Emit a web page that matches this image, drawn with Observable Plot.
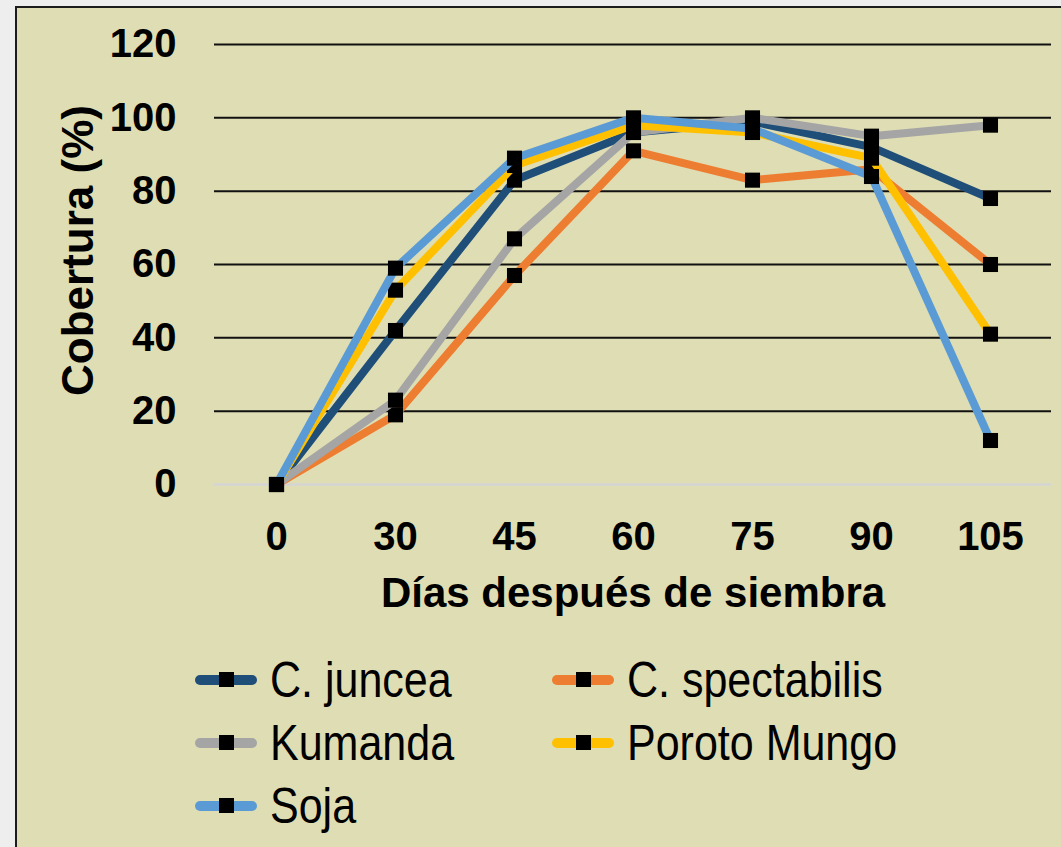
<!DOCTYPE html>
<html><head><meta charset="utf-8">
<script src="https://cdn.jsdelivr.net/npm/d3@7"></script>
<script src="https://cdn.jsdelivr.net/npm/@observablehq/plot@0.6"></script>
<style>
body{margin:0;background:#eeeeee;width:1061px;height:847px;overflow:hidden;position:relative;font-family:"Liberation Sans",Arial,sans-serif;}
#panel{position:absolute;left:15px;top:6px;width:1100px;height:900px;border:2px solid #1c1c1c;background:#dfddb3;}
#chart{position:absolute;left:0;top:0;}
.item{position:absolute;height:50px;display:flex;align-items:center;white-space:nowrap;}
.sw{position:relative;width:62px;height:10px;border-radius:5px;}
.sw i{position:absolute;left:24px;top:-3px;width:15px;height:15px;background:#000;}
.lab{margin-left:13px;font-size:50px;color:#000;transform:scaleX(0.86);transform-origin:left center;}
</style></head><body>
<div id="panel"></div><div id="chart"></div><div id="legend"></div>
<script>
const days = ["0","30","45","60","75","90","105"];
const seriesNames = ["C. juncea","C. spectabilis","Kumanda","Poroto Mungo","Soja"];
const seriesColors = ["#1f4e79","#ed7d31","#a5a5a5","#ffc000","#5b9bd5"];
const juncea      = [0,42,83,96,99,92,78];
const spectabilis = [0,19,57,91,83,86,60];
const kumanda     = [0,23,67,96,100,95,98];
const porotoMungo = [0,53,87,98,96,89,41];
const soja        = [0,59,89,100,97,84,12];
const yTicks = [0,20,40,60,80,100,120];
const xTitle = "Días después de siembra";
const yTitle = "Cobertura (%)";

const seriesValues = [juncea, spectabilis, kumanda, porotoMungo, soja];
const data = [];
seriesNames.forEach((s,i)=>days.forEach((d,j)=>data.push({series:s, day:d, value:seriesValues[i][j]})));

const marks = [
  Plot.ruleY(yTicks.filter(d=>d>0), {stroke:"#111", strokeWidth:2}),
  Plot.ruleY([0], {stroke:"#d4d4d4", strokeWidth:2.5}),
  Plot.axisY({ticks:yTicks, tickSize:0, tickPadding:38, fontSize:40, fontWeight:"bold", label:null}),
  Plot.axisX({tickSize:0, tickPadding:37, fontSize:40, fontWeight:"bold", label:null})
];
seriesNames.forEach((s,i)=>{
  const rows = data.filter(d=>d.series===s);
  marks.push(Plot.line(rows, {x:"day", y:"value", stroke:seriesColors[i], strokeWidth:8, strokeLinejoin:"round"}));
  marks.push(Plot.dot(rows, {x:"day", y:"value", symbol:"square", r:8.5, fill:"#000", stroke:null}));
});
marks.push(Plot.text([xTitle], {text:d=>d, frameAnchor:"bottom", dy:122, fontSize:42, fontWeight:"bold", fill:"#000"}));
marks.push(Plot.text([yTitle], {text:d=>d, frameAnchor:"left", textAnchor:"middle", lineAnchor:"middle", rotate:-90, dx:-136, dy:-14, fontSize:44, fontWeight:"bold", fill:"#000"}));

const chart = Plot.plot({
  width:1061, height:640,
  marginLeft:214, marginRight:10, marginTop:44, marginBottom:156,
  style:{background:"transparent", fontFamily:"'Liberation Sans', Arial, sans-serif", color:"#000", overflow:"visible"},
  x:{type:"point", domain:days, padding:0.5},
  y:{domain:[0,120]},
  marks
});
document.getElementById("chart").appendChild(chart);

const legend = d3.select("#legend");
seriesNames.forEach((s,i)=>{
  const col = i%2, row = Math.floor(i/2);
  const it = legend.append("div").attr("class","item")
    .style("left",(195+col*357)+"px").style("top",(655+row*63)+"px");
  it.append("div").attr("class","sw").style("background",seriesColors[i]).append("i");
  it.append("span").attr("class","lab").text(s);
});
</script>
</body></html>
